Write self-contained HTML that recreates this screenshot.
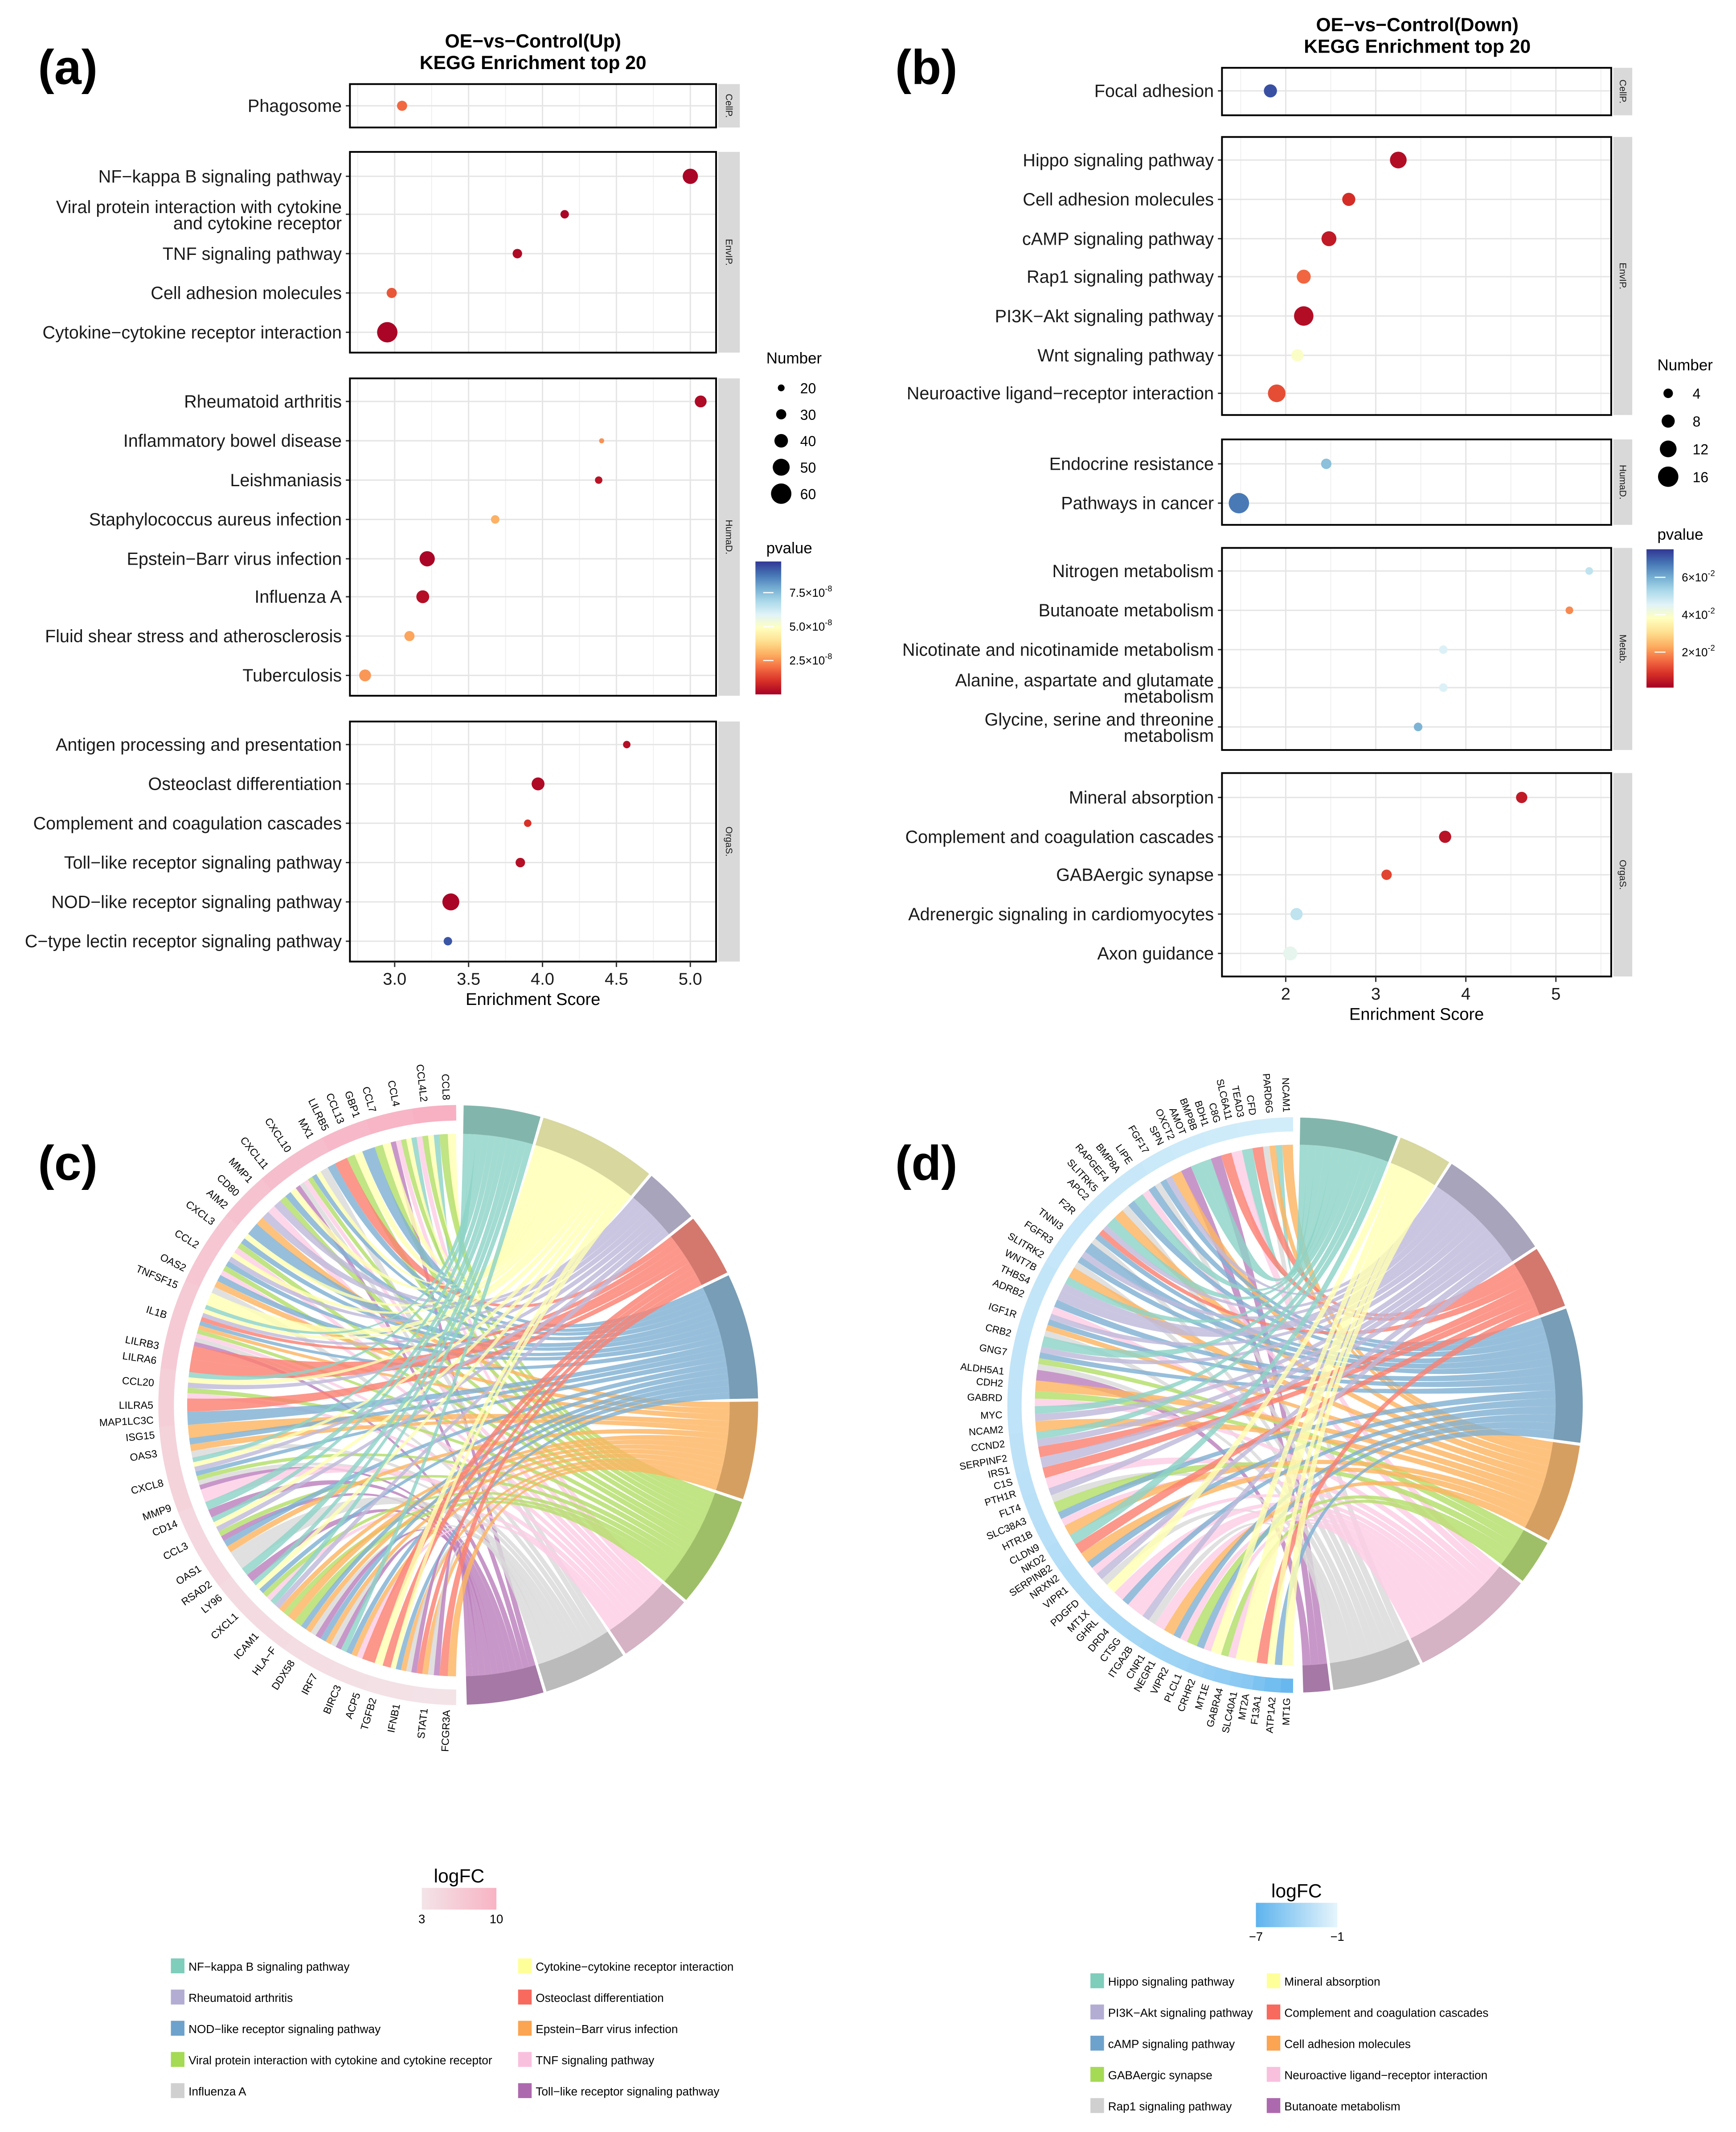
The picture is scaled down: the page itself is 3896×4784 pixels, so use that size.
<!DOCTYPE html>
<html><head><meta charset="utf-8"><style>
html,body{margin:0;padding:0;background:#fff}
svg{display:block;font-family:"Liberation Sans",Arial,sans-serif}
</style></head><body>
<svg id="fig" xmlns="http://www.w3.org/2000/svg" width="3896" height="4784" viewBox="0 0 1280 1572" preserveAspectRatio="none">
<rect width="1280" height="1572" fill="#fff"/>
<g font-weight="bold" font-size="36" fill="#000">
<text x="28" y="62">(a)</text>
<text x="660" y="62">(b)</text>
<text x="28" y="870">(c)</text>
<text x="660" y="870">(d)</text>
</g>
<g font-weight="bold" font-size="14" text-anchor="middle">
<text x="393" y="35">OE−vs−Control(Up)</text>
<text x="393" y="51">KEGG Enrichment top 20</text>
<text x="1045" y="23">OE−vs−Control(Down)</text>
<text x="1045" y="39">KEGG Enrichment top 20</text>
</g>
<g id="pa"></g>
<g id="pb"></g>
<g id="pc"></g>
<g id="pd"></g>
</svg>
<script>
// ---------- Panel (a) data ----------
const termsA = ["Phagosome","NF−kappa B signaling pathway","Viral protein interaction with cytokine|and cytokine receptor","TNF signaling pathway","Cell adhesion molecules","Cytokine−cytokine receptor interaction","Rheumatoid arthritis","Inflammatory bowel disease","Leishmaniasis","Staphylococcus aureus infection","Epstein−Barr virus infection","Influenza A","Fluid shear stress and atherosclerosis","Tuberculosis","Antigen processing and presentation","Osteoclast differentiation","Complement and coagulation cascades","Toll−like receptor signaling pathway","NOD−like receptor signaling pathway","C−type lectin receptor signaling pathway"];
const scoresA = [3.05,5.0,4.15,3.83,2.98,2.95,5.07,4.4,4.38,3.68,3.22,3.19,3.1,2.8,4.57,3.97,3.9,3.85,3.38,3.36];
const countsA = [30,45,25,28,30,60,35,15,22,25,45,38,30,35,22,38,22,28,50,25];
const pvalsA = [1.9,0.1,0.1,0.2,1.6,0.1,0.2,2.5,0.4,3.0,0.1,0.3,2.8,2.6,0.3,0.2,1.0,0.3,0.1,9.3];
const ticksA = [3.0,3.5,4.0,4.5,5.0];
const tickLabelsA = ["3.0","3.5","4.0","4.5","5.0"];
const sizeBreaksA = [20,30,40,50,60];
const pBreaksA = [2.5,5.0,7.5];
// ---------- Panel (b) data ----------
const termsB = ["Focal adhesion","Hippo signaling pathway","Cell adhesion molecules","cAMP signaling pathway","Rap1 signaling pathway","PI3K−Akt signaling pathway","Wnt signaling pathway","Neuroactive ligand−receptor interaction","Endocrine resistance","Pathways in cancer","Nitrogen metabolism","Butanoate metabolism","Nicotinate and nicotinamide metabolism","Alanine, aspartate and glutamate|metabolism","Glycine, serine and threonine|metabolism","Mineral absorption","Complement and coagulation cascades","GABAergic synapse","Adrenergic signaling in cardiomyocytes","Axon guidance"];
const scoresB = [1.83,3.25,2.7,2.48,2.2,2.2,2.13,1.9,2.45,1.48,5.37,5.15,3.75,3.75,3.47,4.62,3.77,3.12,2.12,2.05];
const countsB = [8,12,8,10,9,15,7,13,5,16,2,2,3,3,3,6,7,5,7,9];
const pvalsB = [7.2,0.3,0.8,0.5,1.5,0.3,3.9,1.2,5.7,6.7,5.0,1.9,4.6,4.6,5.9,0.5,0.4,1.1,5.0,4.4];
const ticksB = [2,3,4,5];
const tickLabelsB = ["2","3","4","5"];
const sizeBreaksB = [4,8,12,16];
const pBreaksB = [2,4,6];
// ---------- Panel (c) data ----------
const pathwaysC = ["NF−kappa B signaling pathway","Cytokine−cytokine receptor interaction","Rheumatoid arthritis","Osteoclast differentiation","NOD−like receptor signaling pathway","Epstein−Barr virus infection","Viral protein interaction with cytokine and cytokine receptor","TNF signaling pathway","Influenza A","Toll−like receptor signaling pathway"];
const genesC = ["CCL8","CCL4L2","CCL4","CCL7","GBP1","CCL13","LILRB5","MX1","CXCL10","CXCL11","MMP1","CD80","AIM2","CXCL3","CCL2","OAS2","TNFSF15","IL1B","LILRB3","LILRA6","CCL20","LILRA5","MAP1LC3C","ISG15","OAS3","CXCL8","MMP9","CD14","CCL3","OAS1","RSAD2","LY96","CXCL1","ICAM1","HLA−F","DDX58","IRF7","BIRC3","ACP5","TGFB2","IFNB1","STAT1","FCGR3A"];
const linksC = ["16","0167","01679","16","4","16","3","48","146789","146","27","25","4","1467","12467","458","1","0123456789","3","3","01267","3","4","5","458","0124689","7","09","01269","458","8","09","01467","0256","56","4589","4589","0457","3","13","14589","3589","35"];
const logfcC = [9,9,8.5,8.5,8,8,8,7.5,7.5,7.5,7,7,7,6.5,6.5,6.5,6,6,6,6,5.5,5.5,5.5,5,5,5,5,4.5,4.5,4.5,4.5,4,4,4,4,3.8,3.8,3.6,3.5,3.4,3.3,3.2,3.1];
// ---------- Panel (d) data ----------
const pathwaysD = ["Hippo signaling pathway","Mineral absorption","PI3K−Akt signaling pathway","Complement and coagulation cascades","cAMP signaling pathway","Cell adhesion molecules","GABAergic synapse","Neuroactive ligand−receptor interaction","Rap1 signaling pathway","Butanoate metabolism"];
const genesD = ["NCAM1","PARD6G","CFD","TEAD3","SLC6A11","C8G","BDH1","BMP8B","AMOT","OXCT2","SPN","FGF17","LIPE","BMP8A","RAPGEF4","SLITRK5","APC2","F2R","TNNI3","FGFR3","SLITRK2","WNT7B","THBS4","ADRB2","IGF1R","CRB2","GNG7","ALDH5A1","CDH2","GABRD","MYC","NCAM2","CCND2","SERPINF2","IRS1","C1S","PTH1R","FLT4","SLC38A3","HTR1B","CLDN9","NKD2","SERPINB2","NRXN2","VIPR1","PDGFD","MT1X","GHRL","DRD4","CTSG","ITGA2B","CNR1","NEGR1","VIPR2","PLCL1","CRHR2","MT1E","GABRA4","SLC40A1","MT2A","F13A1","ATP1A2","MT1G"];
const linksD = ["5","058","3","0","7","3","9","0","0","9","5","248","47","0","48","5","0","2348","4","248","5","02","2","47","2458","0","2468","9","5","67","02","5","02","3","2","3","7","28","6","47","5","0","3","5","47","28","1","7","47","7","28","7","5","47","6","47","1","67","1","1","3","14","1"];
const logfcD = [-1.5,-1.5,-1.6,-1.6,-1.7,-1.7,-1.7,-1.8,-1.8,-1.8,-1.9,-1.9,-2,-2,-2,-2,-2,-2.1,-2.1,-2.1,-2.1,-2.2,-2.2,-2.2,-2.2,-2.3,-2.3,-2.3,-2.3,-2.4,-2.4,-2.4,-2.5,-2.5,-2.5,-2.6,-2.6,-2.7,-2.7,-2.8,-2.8,-2.9,-2.9,-3,-3,-3.1,-3.2,-3.3,-3.4,-3.5,-3.6,-3.7,-3.8,-3.9,-4,-4.2,-4.4,-4.6,-4.8,-5,-5.5,-6,-6.5];

const NS="http://www.w3.org/2000/svg";
function el(tag,attrs,parent){const e=document.createElementNS(NS,tag);for(const k in attrs)e.setAttribute(k,attrs[k]);parent.appendChild(e);return e;}
const RDYLBU=["#A50026","#D73027","#F46D43","#FDAE61","#FEE090","#FFFFBF","#E0F3F8","#ABD9E9","#74ADD1","#4575B4","#313695"];
function hex2(h){return [parseInt(h.slice(1,3),16),parseInt(h.slice(3,5),16),parseInt(h.slice(5,7),16)];}
function mix(a,b,t){const A=hex2(a),B=hex2(b);return "rgb("+A.map((v,i)=>Math.round(v+(B[i]-v)*t)).join(",")+")";}
function rdylbu(t){t=Math.max(0,Math.min(1,t));const s=t*10,i=Math.min(9,Math.floor(s));return mix(RDYLBU[i],RDYLBU[i+1],s-i);}

function dotplot(g,cfg,terms,scores,counts,pvals,ticks,tickLabels,sizeBreaks,pBreaks){
  const xs=v=>cfg.x0px+(v-cfg.x0)*cfg.ppu;
  const rs=n=>Math.max(1.3,cfg.r0+(n-cfg.n0)*cfg.rk);
  const col=p=>rdylbu((p-cfg.pmin)/(cfg.pmax-cfg.pmin));
  let idx=0;
  cfg.facets.forEach(f=>{
    const fg=el("g",{},g);
    
    
    el("rect",{x:cfg.xL,y:f.y0,width:cfg.xR-cfg.xL,height:f.y1-f.y0,fill:"#fff"},fg);
    for(let k=0;k<ticks.length;k++){
      el("line",{x1:xs(ticks[k]),x2:xs(ticks[k]),y1:f.y0,y2:f.y1,stroke:"#e5e5e5","stroke-width":1},fg);
      const mn=ticks[k]-cfg.minor; if(xs(mn)>cfg.xL) el("line",{x1:xs(mn),x2:xs(mn),y1:f.y0,y2:f.y1,stroke:"#efefef","stroke-width":0.6},fg);
      const mx=ticks[k]+cfg.minor; if(k==ticks.length-1&&xs(mx)<cfg.xR) el("line",{x1:xs(mx),x2:xs(mx),y1:f.y0,y2:f.y1,stroke:"#efefef","stroke-width":0.6},fg);
    }
    f.rows.forEach(y=>{
      el("line",{x1:cfg.xL,x2:cfg.xR,y1:y,y2:y,stroke:"#e5e5e5","stroke-width":1},fg);
      const i=idx++;
      const parts=terms[i].split("|");
      const t=el("text",{x:cfg.xL-6,"text-anchor":"end","font-size":13,fill:"#1a1a1a"},fg);
      
      
      if(parts.length==1){t.setAttribute("y",y+4.5);t.textContent=parts[0];}
      else{const a=el("tspan",{x:cfg.xL-6,y:y-1},t);a.textContent=parts[0];const b=el("tspan",{x:cfg.xL-6,y:y+11},t);b.textContent=parts[1];}
      el("line",{x1:cfg.xL-3,x2:cfg.xL,y1:y,y2:y,stroke:"#333","stroke-width":1},fg);
      const c=el("circle",{cx:xs(scores[i]),cy:y,r:rs(counts[i]),fill:col(pvals[i])},fg);
      
      
    });
    el("rect",{x:cfg.xL,y:f.y0,width:cfg.xR-cfg.xL,height:f.y1-f.y0,fill:"none",stroke:"#000","stroke-width":1.3},fg);
    el("rect",{x:cfg.xR+1.5,y:f.y0,width:cfg.strip,height:f.y1-f.y0,fill:"#d9d9d9"},fg);
    const st=el("text",{x:0,y:0,"font-size":7,"text-anchor":"middle",fill:"#1a1a1a",transform:`translate(${cfg.xR+1.5+cfg.strip/2-2.3},${(f.y0+f.y1)/2}) rotate(90)`},fg);
    
    
    st.textContent=f.name;
  });
  const last=cfg.facets[cfg.facets.length-1].y1;
  ticks.forEach((v,k)=>{
    el("line",{x1:xs(v),x2:xs(v),y1:last,y2:last+4,stroke:"#333","stroke-width":1},g);
    const t=el("text",{x:xs(v),y:last+17,"text-anchor":"middle","font-size":12.5,fill:"#1a1a1a"},g);
    
    
    t.textContent=tickLabels[k];
  });
  const xt=el("text",{x:(cfg.xL+cfg.xR)/2,y:last+32,"text-anchor":"middle","font-size":12.5},g);
  
  
  xt.textContent="Enrichment Score";
  const L=cfg.leg;
  const nt=el("text",{x:L.x,y:L.ny,"font-size":11.5},g);
  
  
  nt.textContent="Number";
  sizeBreaks.forEach((n,k)=>{
    const y=L.ny+L.n0+k*L.ndy;
    el("circle",{cx:L.cx,cy:y,r:rs(n),fill:"#000"},g);
    const t=el("text",{x:L.lx,y:y+4,"font-size":10.5},g);
    
    
    t.textContent=n;
  });
  const pt=el("text",{x:L.x,y:L.py,"font-size":11.5},g);
  
  
  pt.textContent="pvalue";
  const gid="grad"+cfg.id;
  const defs=el("defs",{},g);const lg=el("linearGradient",{id:gid,x1:0,y1:1,x2:0,y2:0},defs);
  for(let k=0;k<=10;k++)el("stop",{offset:k/10,"stop-color":RDYLBU[k]},lg);
  el("rect",{x:L.bx,y:L.by0,width:L.bw,height:L.by1-L.by0,fill:`url(#${gid})`},g);
  const py=p=>L.by1-(p-cfg.pmin)/(cfg.pmax-cfg.pmin)*(L.by1-L.by0);
  pBreaks.forEach(p=>{
    el("line",{x1:L.bx+L.bw*0.3,x2:L.bx+L.bw*0.7,y1:py(p),y2:py(p),stroke:"#fff","stroke-width":0.8},g);
    const t=el("text",{x:L.bx+L.bw+6,y:py(p)+3,"font-size":8.5},g);
    
    
    t.textContent=p.toFixed(cfg.pdec)+"×10";
    const s=el("tspan",{dy:-4,"font-size":6},t);s.textContent=cfg.pexp;
  });
}

dotplot(document.getElementById("pa"),{id:"a",x0:3.0,x0px:291,ppu:109,xL:258,xR:528,strip:16,minor:0.25,r0:2.5,n0:20,rk:0.125,pmin:0,pmax:9.8,pdec:1,pexp:"-8",
  facets:[{name:"CellP.",y0:62,y1:94,rows:[78]},{name:"EnvIP.",y0:112,y1:260,rows:[130,158,187,216,245]},{name:"HumaD.",y0:279,y1:513,rows:[296,325,354,383,412,440,469,498]},{name:"OrgaS.",y0:532,y1:709,rows:[549,578,607,636,665,694]}],
  leg:{x:565,ny:268,n0:18,ndy:19.5,cx:576,lx:590,py:408,bx:557,bw:19,by0:414,by1:512}},
  termsA,scoresA,countsA,pvalsA,ticksA,tickLabelsA,sizeBreaksA,pBreaksA);
dotplot(document.getElementById("pb"),{id:"b",x0:2,x0px:948,ppu:66.4,xL:901,xR:1188,strip:14,minor:0.5,r0:3.5,n0:4,rk:0.333,pmin:0.1,pmax:7.5,pdec:0,pexp:"-2",
  facets:[{name:"CellP.",y0:50,y1:85,rows:[67]},{name:"EnvIP.",y0:101,y1:306,rows:[118,147,176,204,233,262,290]},{name:"HumaD.",y0:324,y1:387,rows:[342,371]},{name:"Metab.",y0:404,y1:553,rows:[421,450,479,507,536]},{name:"OrgaS.",y0:570,y1:720,rows:[588,617,645,674,703]}],
  leg:{x:1222,ny:273,n0:17,ndy:20.5,cx:1230,lx:1248,py:398,bx:1214,bw:20,by0:405,by1:507}},
  termsB,scoresB,countsB,pvalsB,ticksB,tickLabelsB,sizeBreaksB,pBreaksB);

// ---------- chord diagrams ----------
const SET3=["#8DD3C7","#FFFFB3","#BEBADA","#FB8072","#80B1D3","#FDB462","#B3DE69","#FCCDE5","#D9D9D9","#BC80BD"];
const SET3L=["#7FCDBB","#FFFF99","#B3ADD3","#F8695E","#6DA2CC","#FBA451","#A5DA55","#F9C0DE","#D0D0D0","#AD69AE"];
function chord(g,cfg,genes,links,logfc,pathways){
  const {cx,cy,R}=cfg;
  const P=(th,r)=>[cx+r*Math.sin(th*Math.PI/180),cy-r*Math.cos(th*Math.PI/180)];
  const total=links.reduce((s,l)=>s+l.length,0);
  const wts=links.map(l=>l.length+cfg.wpad);
  const wsum=wts.reduce((a,b)=>a+b,0);
  const gu=179/wsum;
  const pCount=pathways.map((_,k)=>links.reduce((s,l)=>s+(l.includes(String(k))?1:0),0));
  const pGap=0.6, pu=(178-pathways.length*pGap)/total;
  const pStart=[];let a=1;pathways.forEach((_,k)=>{pStart.push(a);a+=pCount[k]*pu+pGap;});
  const pCursor=pStart.slice();
  let th=359.5;
  const rib=el("g",{},g);
  genes.forEach((gn,i)=>{
    const w=wts[i]*gu;
    const s=th, e=th-w;
    const c=cfg.geneCol(logfc[i]);
    const p1=P(s,R),p2=P(e,R),p3=P(e,R-cfg.gw),p4=P(s,R-cfg.gw);
    const seg=el("path",{d:`M${p1}A${R},${R} 0 0 0 ${p2}L${p3}A${R-cfg.gw},${R-cfg.gw} 0 0 1 ${p4}Z`,fill:c,stroke:c,"stroke-width":0.5},g);
    
    
    const mid=(s+e)/2, lp=P(mid,R+4);
    const t=el("text",{x:0,y:0,"font-size":cfg.fs,"text-anchor":"end",transform:`translate(${lp[0]},${lp[1]}) rotate(${mid-270}) translate(0,${cfg.fs*0.35})`},g);
    
    
    t.textContent=gn;
    const n=links[i].length, ru=w/n;
    let ga=s;
    links[i].split("").forEach(ch=>{
      const k=+ch;
      const a1=ga,a2=ga-ru;ga=a2;
      const b1=pCursor[k],b2=b1+pu;pCursor[k]=b2;
      const r=cfg.rr;
      const A1=P(a1,r),A2=P(a2,r),B1=P(b1,r),B2=P(b2,r);
      const path=el("path",{d:`M${A1}A${r},${r} 0 0 0 ${A2}Q${cx},${cy} ${B2}A${r},${r} 0 0 0 ${B1}Q${cx},${cy} ${A1}Z`,fill:SET3[k],"fill-opacity":0.82},rib);
      
      
    });
    th=e;
  });
  pathways.forEach((pn,k)=>{
    const s=pStart[k],e=s+pCount[k]*pu;
    const r0=cfg.rr,r1=R;
    const p1=P(s,r1),p2=P(e,r1),p3=P(e,r0),p4=P(s,r0);
    const big=(e-s)>180?1:0;
    const seg=el("path",{d:`M${p1}A${r1},${r1} 0 ${big} 1 ${p2}L${p3}A${r0},${r0} 0 ${big} 0 ${p4}Z`,fill:mix(SET3[k],"#606060",0.25)},g);
    
    
  });
  const Lg=cfg.leg;
  const defs=el("defs",{},g);const lg=el("linearGradient",{id:"lf"+cfg.id,x1:0,y1:0,x2:1,y2:0},defs);
  el("stop",{offset:0,"stop-color":cfg.gl0},lg);el("stop",{offset:1,"stop-color":cfg.gl1},lg);
  const tt=el("text",{x:Lg.bx+Lg.bw/2,y:Lg.by-4,"text-anchor":"middle","font-size":14},g);
  
  
  tt.textContent="logFC";
  el("rect",{x:Lg.bx,y:Lg.by,width:Lg.bw,height:Lg.bh,fill:`url(#lf${cfg.id})`},g);
  cfg.lgLabels.forEach((s,k)=>{
    const t=el("text",{x:Lg.bx+k*Lg.bw,y:Lg.by+Lg.bh+10,"text-anchor":"middle","font-size":9},g);
    
    
    t.textContent=s;
  });
  cfg.legOrder.forEach((k,j)=>{
    const col=j<5?0:1,row=j%5;
    const x=Lg.ex[col],y=Lg.ey+row*Lg.edy;
    const sw=el("rect",{x:x,y:y-5,width:Lg.sw,height:11,fill:SET3L[k]},g);
    
    
    const t=el("text",{x:x+Lg.sw+3,y:y+4,"font-size":cfg.lfs},g);
    
    
    t.textContent=pathways[k];
  });
}
chord(document.getElementById("pc"),{id:"c",cx:338,cy:1036,R:221,gw:11,rr:200,fs:7.6,lfs:8.6,wpad:3,
  geneCol:v=>mix("#F3E4E8","#F8A8BC",(v-3)/7),gl0:"#F3E4E8",gl1:"#F8B3C3",lgLabels:["3","10"],
  leg:{bx:311,by:1392,bw:55,bh:16,ex:[126,382],ey:1449,edy:23,sw:10},legOrder:[0,2,4,6,8,1,3,5,7,9]},
  genesC,linksC,logfcC,pathwaysC);
chord(document.getElementById("pd"),{id:"d",cx:955,cy:1036,R:212,gw:10,rr:192,fs:7.3,lfs:8.6,wpad:1.5,
  geneCol:v=>mix("#5DB3EE","#DDF2FB",(v+7)/6),gl0:"#5DB3EE",gl1:"#E6F5FC",lgLabels:["−7","−1"],
  leg:{bx:926,by:1403,bw:60,bh:18,ex:[804,934],ey:1460,edy:23,sw:10},legOrder:[0,2,4,6,8,1,3,5,7,9]},
  genesD,linksD,logfcD,pathwaysD);
</script>
</body></html>
